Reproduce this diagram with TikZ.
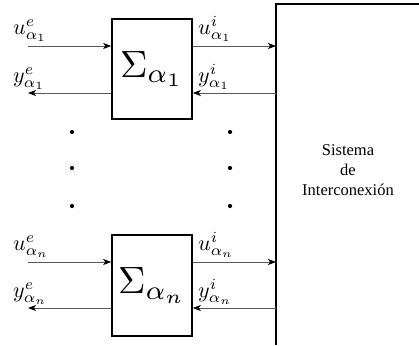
\documentclass[tikz,border=0pt]{standalone}
\usepackage{graphicx}
\usepackage{fontspec}
\newfontfamily\sysfont{Liberation Serif}
\usetikzlibrary{arrows.meta}
\newcommand{\bigmath}[1]{\scalebox{3.8}{$#1$}}
\newcommand{\labmath}[1]{\scalebox{2.2}{$#1$}}
\begin{document}
\begin{tikzpicture}[x=1pt,y=-1pt,
  sigmabox/.style={draw=black,line width=1.6pt,minimum width=80pt,minimum height=100pt,inner sep=0pt},
  sig/.style={draw=black!65,line width=0.9pt,-{Stealth[length=8pt,width=6pt,inset=2pt,color=black]}},
  lab/.style={inner sep=0pt,anchor=south west},
  dotp/.style={circle,fill=black,inner sep=0pt,minimum size=4.2pt},
  syslabel/.style={align=center,font=\sysfont\fontsize{16.5}{20}\selectfont}]
\useasboundingbox (0,0) rectangle (419,345);
% interconnection system (open box)
\coordinate (sysL) at (276,4);
\coordinate (sysR) at (419,4);
\coordinate (sysB) at (276,345);
\draw[line width=2pt] (sysR) -- (sysL) -- (sysB);
\node[syslabel] (sys) at (348,170) {Sistema\\de\\Interconexión};
% subsystem boxes
\node[sigmabox] (box1) at (152,69) {\bigmath{\Sigma_{\alpha_1}}};
\node[sigmabox,minimum height=101pt] (box2) at (152,285.5) {\bigmath{\Sigma_{\alpha_n}}};
% free ends
\coordinate (ue1) at (28,46);
\coordinate (ye1) at (28,93);
\coordinate (uen) at (28,262);
\coordinate (yen) at (28,308);
% arrows, first subsystem
\draw[sig] (ue1) -- (ue1 -| box1.west);
\draw[sig] (ye1 -| box1.west) -- (ye1);
\draw[sig] (ue1 -| box1.east) -- (ue1 -| sysL);
\draw[sig] (ye1 -| sysL) -- (ye1 -| box1.east);
% arrows, last subsystem
\draw[sig] (uen) -- (uen -| box2.west);
\draw[sig] (yen -| box2.west) -- (yen);
\draw[sig] (uen -| box2.east) -- (uen -| sysL);
\draw[sig] (yen -| sysL) -- (yen -| box2.east);
% labels
\node[lab] (lue1) at (13,42) {\labmath{u^e_{\alpha_1}}};
\node[lab] (lye1) at (13,90) {\labmath{y^e_{\alpha_1}}};
\node[lab] (lui1) at (198,42) {\labmath{u^i_{\alpha_1}}};
\node[lab] (lyi1) at (198,90) {\labmath{y^i_{\alpha_1}}};
\node[lab] (luen) at (13,258) {\labmath{u^e_{\alpha_n}}};
\node[lab] (lyen) at (13,305) {\labmath{y^e_{\alpha_n}}};
\node[lab] (luin) at (198,258) {\labmath{u^i_{\alpha_n}}};
\node[lab] (lyin) at (198,305) {\labmath{y^i_{\alpha_n}}};
% dots
\node[dotp] (dl1) at (72,132) {};
\node[dotp] (dl2) at (72,168) {};
\node[dotp] (dl3) at (72,206) {};
\node[dotp] (dr1) at (230,132) {};
\node[dotp] (dr2) at (230,168) {};
\node[dotp] (dr3) at (230,206) {};
\end{tikzpicture}
\end{document}
